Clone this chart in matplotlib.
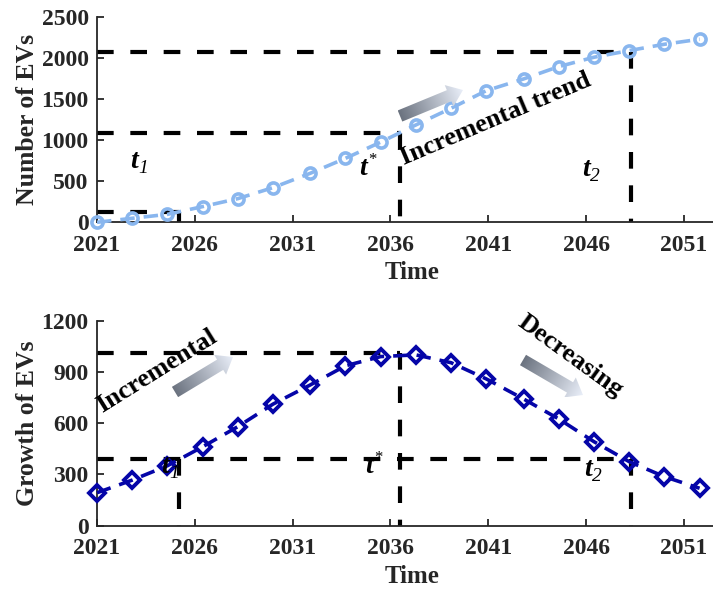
import numpy as np
import matplotlib
matplotlib.use("Agg")
import matplotlib.pyplot as plt
from matplotlib.patches import Polygon

plt.rcParams['font.family'] = ['Liberation Serif', 'DejaVu Serif']
plt.rcParams['font.weight'] = 'bold'

# ---------------- data ----------------
years = [2021.0, 2022.8, 2024.6, 2026.4, 2028.2, 2030.0, 2031.9, 2033.7, 2035.5,
         2037.3, 2039.1, 2040.9, 2042.8, 2044.6, 2046.4, 2048.2, 2050.0, 2051.8]
num_evs = [0, 49, 97, 191, 288, 422, 596, 778, 975,
           1184, 1387, 1601, 1743, 1893, 2007, 2088, 2165, 2226]
growth_evs = [193, 267, 351, 462, 580, 712, 824, 936, 990,
              1000, 954, 859, 742, 625, 492, 375, 287, 219]
xticks = [2021, 2026, 2031, 2036, 2041, 2046, 2051]
top_yticks = [0, 500, 1000, 1500, 2000, 2500]
bot_yticks = [0, 300, 600, 900, 1200]
t1, tstar, t2 = 2025.2, 2036.5, 2048.3
top_levels = [125, 1090, 2068]      # at t1, t*, t2
bot_levels = [1010, 390]            # peak level, t1/t2 level

light_blue = '#89b6ee'
dark_blue = '#0505a8'
axcol = '#262626'

W, H = 713, 594
fig = plt.figure(figsize=(W / 100, H / 100), dpi=100)

def px_axes(l, t, r, b):
    return fig.add_axes([l / W, 1 - b / H, (r - l) / W, (b - t) / H])

ax1 = px_axes(97, 16.7, 727, 222.3)
ax2 = px_axes(97, 320.7, 727, 525.7)

dash_kw = dict(color='black', lw=3.0, dashes=(4, 4), solid_capstyle='butt',
               dash_capstyle='butt', zorder=2)

def style(ax, yticks, ylabel):
    ax.set_xlim(2021, 2053.2)
    ax.set_ylim(yticks[0], yticks[-1])
    ax.set_xticks(xticks)
    ax.set_yticks(yticks)
    for s in ['top', 'right']:
        ax.spines[s].set_visible(False)
    for s in ['left', 'bottom']:
        ax.spines[s].set_linewidth(1.3)
        ax.spines[s].set_color(axcol)
    ax.tick_params(direction='in', length=5, width=1.3, labelsize=17,
                   colors=axcol)
    ax.tick_params(axis='x', pad=9)
    ax.tick_params(axis='y', pad=6)
    for lab in ax.get_xticklabels() + ax.get_yticklabels():
        lab.set_fontweight('bold')
    ax.set_xlabel('Time', fontsize=18, fontweight='bold', color=axcol, labelpad=4)
    ax.set_ylabel(ylabel, fontsize=18.5, fontweight='bold', color=axcol, labelpad=2)

def tlabel(ax, x, y, sub=None, sup=None):
    ax.text(x, y, 't', fontsize=20, fontstyle='italic', fontweight='bold',
            ha='center', va='center', zorder=6)
    if sub is not None:
        ax.annotate(sub, xy=(x, y), xytext=(6.5, -5), textcoords='offset points',
                    fontsize=14, fontstyle='italic', fontweight='normal',
                    ha='center', va='center', zorder=6)
    if sup is not None:
        ax.annotate(sup, xy=(x, y), xytext=(6.5, 6), textcoords='offset points',
                    fontsize=12, fontweight='normal', ha='center', va='center', zorder=6)

# ---------------- top panel ----------------
x0 = 2021
ax1.plot([x0, t2], [top_levels[2]] * 2, **dash_kw)
ax1.plot([t2, t2], [top_levels[2], 0], **dash_kw)
ax1.plot([x0, tstar], [top_levels[1]] * 2, **dash_kw)
ax1.plot([tstar, tstar], [top_levels[1], 0], **dash_kw)
ax1.plot([x0, t1], [top_levels[0]] * 2, **dash_kw)
ax1.plot([t1, t1], [top_levels[0], 0], **dash_kw)
ax1.plot(years, num_evs, color=light_blue, lw=2.6, dashes=(4, 2.5),
         marker='o', ms=8, mfc='none', mew=2.6, clip_on=False, zorder=3)
style(ax1, top_yticks, 'Number of EVs')

tlabel(ax1, 2022.9, 740, sub='1')
tlabel(ax1, 2034.6, 660, sup='*')
tlabel(ax1, 2046.0, 640, sub='2')
ax1.text(2041.4, 1260, 'Incremental trend', fontsize=19, fontweight='bold',
         rotation=23, rotation_mode='anchor', ha='center', va='center', zorder=5)

# ---------------- bottom panel ----------------
ax2.plot([x0, tstar], [bot_levels[0]] * 2, **dash_kw)
ax2.plot([tstar, tstar], [bot_levels[0], 0], **dash_kw)
ax2.plot([x0, t2], [bot_levels[1]] * 2, **dash_kw)
ax2.plot([t2, t2], [bot_levels[1], 0], **dash_kw)
ax2.plot([t1, t1], [bot_levels[1], 0], **dash_kw)
ax2.plot(years, growth_evs, color=dark_blue, lw=2.6, dashes=(4, 2.5),
         marker='D', ms=8, mfc='none', mew=2.8, clip_on=False, zorder=3)
style(ax2, bot_yticks, 'Growth of EVs')

tlabel(ax2, 2024.5, 345, sub='1')
tlabel(ax2, 2034.9, 345, sup='*')
tlabel(ax2, 2046.1, 330, sub='2')
ax2.text(2024.07, 905, 'Incremental', fontsize=19, fontweight='bold',
         rotation=32, rotation_mode='anchor', ha='center', va='center', zorder=5)
ax2.text(2045.2, 995, 'Decreasing', fontsize=19, fontweight='bold',
         rotation=-36, rotation_mode='anchor', ha='center', va='center', zorder=5)

# ---------------- gradient arrows (overlay in pixel coords) ----------------
ov = fig.add_axes([0, 0, 1, 1], zorder=10)
ov.axis('off')
ov.patch.set_alpha(0)

def grad_arrow(tail, tip, body_w=12, head_w=23, head_l=15):
    tail = np.array(tail, float)
    tip = np.array(tip, float)
    d = tip - tail
    L = np.hypot(*d)
    u = d / L
    n = np.array([-u[1], u[0]])
    hb = tip - u * head_l
    pts = [tail + n * body_w / 2, hb + n * body_w / 2, hb + n * head_w / 2, tip,
           hb - n * head_w / 2, hb - n * body_w / 2, tail - n * body_w / 2]
    poly = Polygon(pts, closed=True, facecolor='none', edgecolor='none')
    ov.add_patch(poly)
    xs = np.array([p[0] for p in pts])
    ys = np.array([p[1] for p in pts])
    xmin, xmax, ymin, ymax = xs.min(), xs.max(), ys.min(), ys.max()
    gx, gy = np.meshgrid(np.linspace(xmin, xmax, 80), np.linspace(ymin, ymax, 80))
    proj = ((gx - tail[0]) * u[0] + (gy - tail[1]) * u[1]) / L
    proj = np.clip(proj, 0, 1)
    c0 = np.array([0.42, 0.45, 0.50])
    c1 = np.array([0.92, 0.94, 0.98])
    img = c0[None, None, :] * (1 - proj[..., None]) + c1[None, None, :] * proj[..., None]
    im = ov.imshow(img, extent=(xmin, xmax, ymax, ymin), origin='upper',
                   interpolation='bilinear', zorder=4)
    im.set_clip_path(poly)

grad_arrow((400, 116), (463, 90))
grad_arrow((175, 392), (233, 357))
grad_arrow((523, 360), (583, 395))
ov.set_xlim(0, W)
ov.set_ylim(H, 0)
ov.set_aspect('auto')

fig.savefig('out.png', dpi=100)
